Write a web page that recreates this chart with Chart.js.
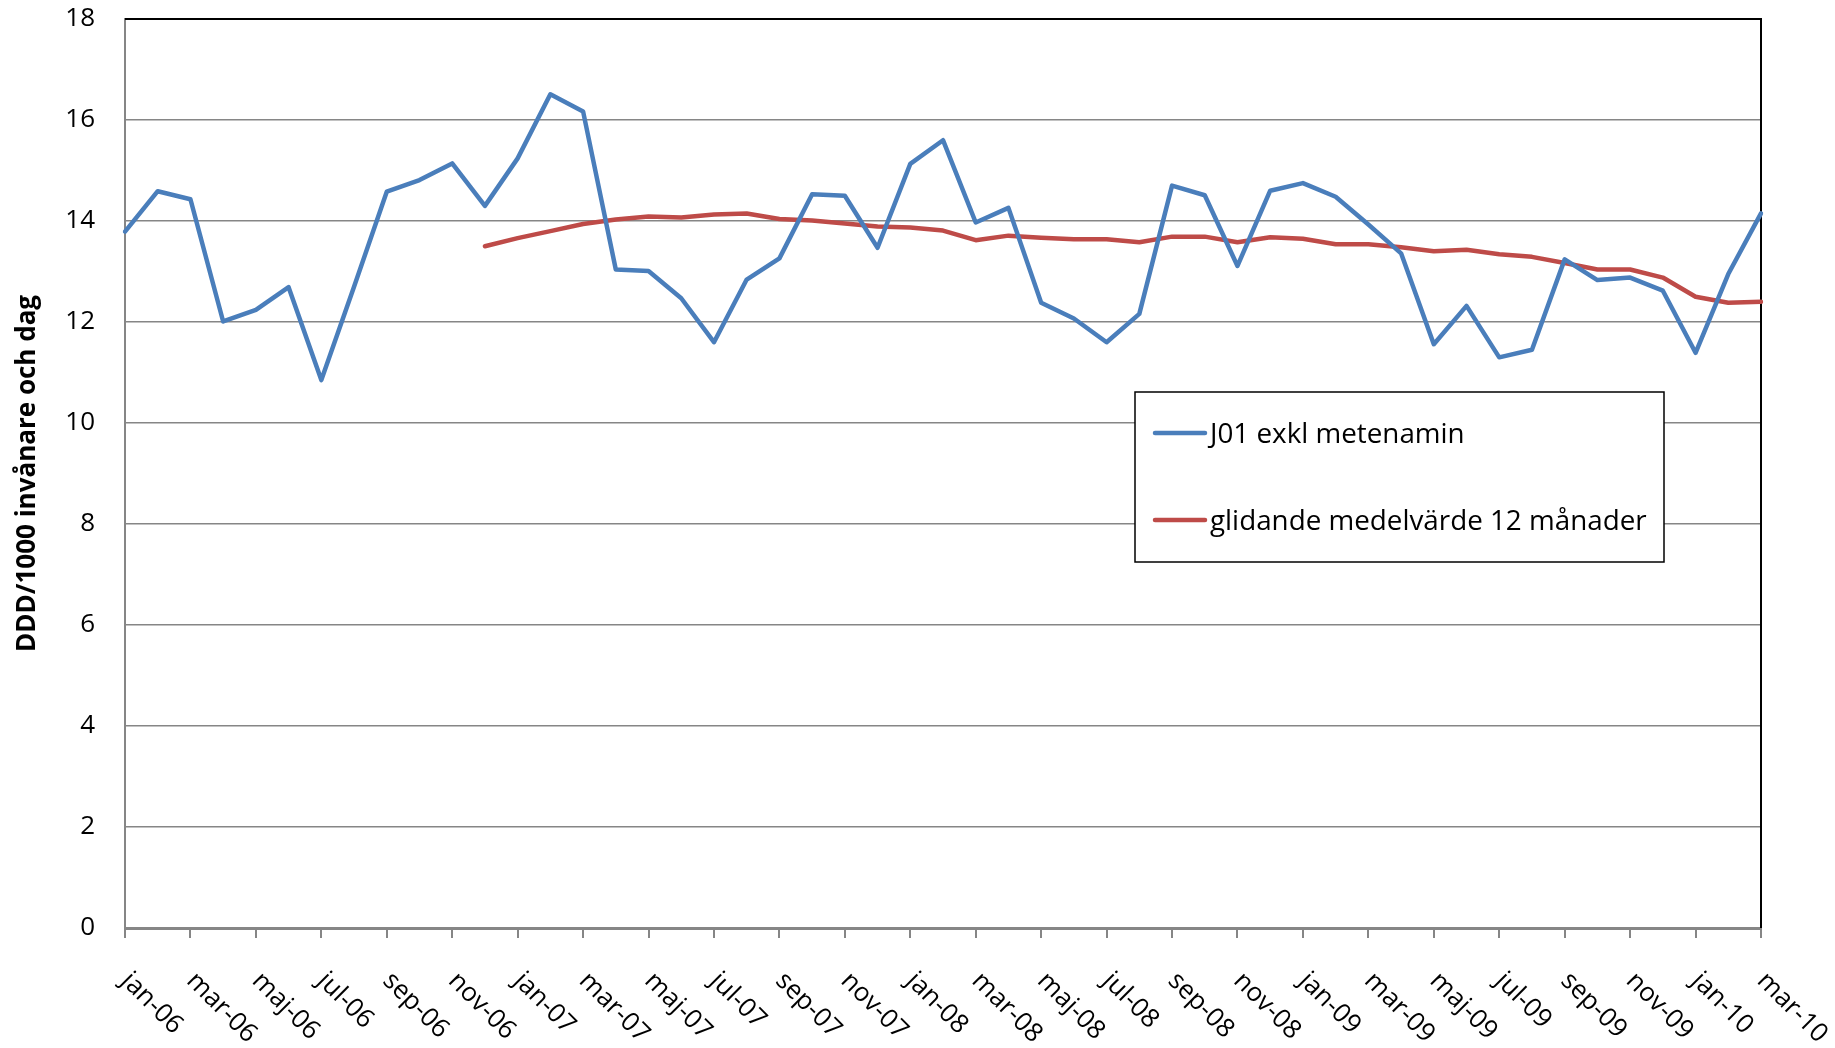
<!DOCTYPE html>
<html>
<head>
<meta charset="utf-8">
<script src="https://cdn.jsdelivr.net/npm/chart.js@4"></script>
<style>
html,body{margin:0;padding:0;background:#fff;}
canvas{display:block;}
</style>
</head>
<body>
<canvas id="c" width="1835" height="1048"></canvas>
<script>
const months = [
  'jan-06','feb-06','mar-06','apr-06','maj-06','jun-06','jul-06','aug-06','sep-06','okt-06','nov-06','dec-06',
  'jan-07','feb-07','mar-07','apr-07','maj-07','jun-07','jul-07','aug-07','sep-07','okt-07','nov-07','dec-07',
  'jan-08','feb-08','mar-08','apr-08','maj-08','jun-08','jul-08','aug-08','sep-08','okt-08','nov-08','dec-08',
  'jan-09','feb-09','mar-09','apr-09','maj-09','jun-09','jul-09','aug-09','sep-09','okt-09','nov-09','dec-09',
  'jan-10','feb-10','mar-10'
];
const j01 = [
  13.79, 14.59, 14.43, 12.01, 12.24, 12.69, 10.85, 12.70, 14.58, 14.81, 15.14, 14.30,
  15.24, 16.51, 16.17, 13.04, 13.01, 12.47, 11.60, 12.84, 13.26, 14.53, 14.50, 13.47,
  15.13, 15.60, 13.97, 14.26, 12.38, 12.07, 11.60, 12.16, 14.70, 14.51, 13.11, 14.60,
  14.75, 14.48, 13.93, 13.36, 11.56, 12.32, 11.30, 11.45, 13.24, 12.83, 12.88, 12.62,
  11.39, 12.95, 14.15
];
const movingAvg = [
  null, null, null, null, null, null, null, null, null, null, null, 13.50,
  13.66, 13.80, 13.94, 14.03, 14.09, 14.07, 14.13, 14.15, 14.04, 14.01, 13.95, 13.89,
  13.87, 13.81, 13.62, 13.71, 13.67, 13.64, 13.64, 13.58, 13.69, 13.69, 13.58, 13.68,
  13.65, 13.54, 13.54, 13.48, 13.40, 13.43, 13.34, 13.29, 13.17, 13.04, 13.04, 12.88,
  12.50, 12.38, 12.40
];
const seriesNames = ['J01 exkl metenamin', 'glidande medelvärde 12 månader'];
const yMin = 0, yMax = 18, yStep = 2;
const yTitle = 'DDD/1000 invånare och dag';

const FONT = "'Open Sans', 'Noto Sans', sans-serif";
const BLUE = '#4A7EBB';
const RED = '#BE4B48';
const GRID = '#868686';

const whiteBg = {
  id: 'whiteBg',
  beforeDraw(chart) {
    const ctx = chart.ctx;
    ctx.save();
    ctx.fillStyle = '#fff';
    ctx.fillRect(0, 0, chart.width, chart.height);
    ctx.restore();
  }
};

const frame = {
  id: 'frame',
  beforeDatasetsDraw(chart) {
    const { ctx, chartArea: a } = chart;
    ctx.save();
    ctx.strokeStyle = '#000';
    ctx.lineWidth = 2;
    ctx.beginPath();
    ctx.moveTo(a.left, a.top);
    ctx.lineTo(a.right, a.top);
    ctx.lineTo(a.right, a.bottom);
    ctx.stroke();
    ctx.restore();
  }
};

const slantLabels = {
  id: 'slantLabels',
  afterDraw(chart) {
    const ctx = chart.ctx;
    const xs = chart.scales.x;
    ctx.save();
    ctx.fillStyle = '#000';
    ctx.font = "26px " + FONT;
    ctx.textAlign = 'left';
    ctx.textBaseline = 'alphabetic';
    months.forEach((m, i) => {
      if (i % 2 !== 0) return;
      const x = xs.getPixelForValue(i);
      ctx.save();
      ctx.translate(x - 5, xs.top + 54);
      ctx.rotate(Math.PI / 4);
      ctx.fillText(m, 0, 0);
      ctx.restore();
    });
    ctx.restore();
  }
};

const boxLegend = {
  id: 'boxLegend',
  afterDraw(chart) {
    const ctx = chart.ctx;
    const bx = 1135, by = 392, bw = 529, bh = 170;
    ctx.save();
    ctx.fillStyle = '#fff';
    ctx.fillRect(bx, by, bw, bh);
    ctx.strokeStyle = '#000';
    ctx.lineWidth = 1.5;
    ctx.strokeRect(bx, by, bw, bh);
    const rows = [433, 520];
    chart.data.datasets.forEach((ds, i) => {
      const ly = rows[i];
      ctx.strokeStyle = ds.borderColor;
      ctx.lineWidth = 4.5;
      ctx.lineCap = 'round';
      ctx.beginPath();
      ctx.moveTo(1155, ly);
      ctx.lineTo(1205, ly);
      ctx.stroke();
      ctx.fillStyle = '#000';
      ctx.font = "27.8px " + FONT;
      ctx.textAlign = 'left';
      ctx.textBaseline = 'alphabetic';
      ctx.fillText(ds.label, 1210, ly + 10);
    });
    ctx.restore();
  }
};

new Chart(document.getElementById('c'), {
  type: 'line',
  data: {
    labels: months,
    datasets: [
      {
        label: seriesNames[0],
        data: j01,
        borderColor: BLUE,
        backgroundColor: BLUE,
        borderWidth: 4.5,
        pointRadius: 0,
        tension: 0,
        borderCapStyle: 'round',
        borderJoinStyle: 'round',
        fill: false
      },
      {
        label: seriesNames[1],
        data: movingAvg,
        borderColor: RED,
        backgroundColor: RED,
        borderWidth: 4.5,
        pointRadius: 0,
        tension: 0,
        borderCapStyle: 'round',
        borderJoinStyle: 'round',
        fill: false
      }
    ]
  },
  options: {
    responsive: false,
    devicePixelRatio: 1,
    animation: false,
    layout: { padding: { top: 19, right: 74, left: 0, bottom: 0 } },
    plugins: {
      legend: { display: false },
      tooltip: { enabled: false },
      title: { display: false }
    },
    scales: {
      x: {
        type: 'category',
        offset: false,
        ticks: { display: false },
        grid: {
          display: true,
          drawOnChartArea: false,
          drawTicks: true,
          tickLength: 10,
          color: (c) => (c.index % 2 === 0 ? GRID : 'rgba(0,0,0,0)'),
          lineWidth: 2
        },
        border: { color: GRID, width: 3 },
        afterFit(s) {
          s.height = 120;
          s.paddingLeft = 0; s.paddingRight = 0;
        }
      },
      y: {
        min: yMin,
        max: yMax,
        ticks: {
          stepSize: yStep,
          color: '#000',
          font: { family: FONT, size: 26 },
          padding: 30
        },
        grid: { color: GRID, lineWidth: 1.5, drawTicks: false },
        border: { color: GRID, width: 2 },
        title: {
          display: true,
          text: yTitle,
          color: '#000',
          font: { family: FONT, size: 26, weight: 'bold' },
          padding: { top: 12, bottom: 0 }
        },
        afterFit(s) {
          s.width = 125;
          s.paddingTop = 0; s.paddingBottom = 0;
        }
      }
    }
  },
  plugins: [whiteBg, frame, slantLabels, boxLegend]
});
</script>
</body>
</html>
